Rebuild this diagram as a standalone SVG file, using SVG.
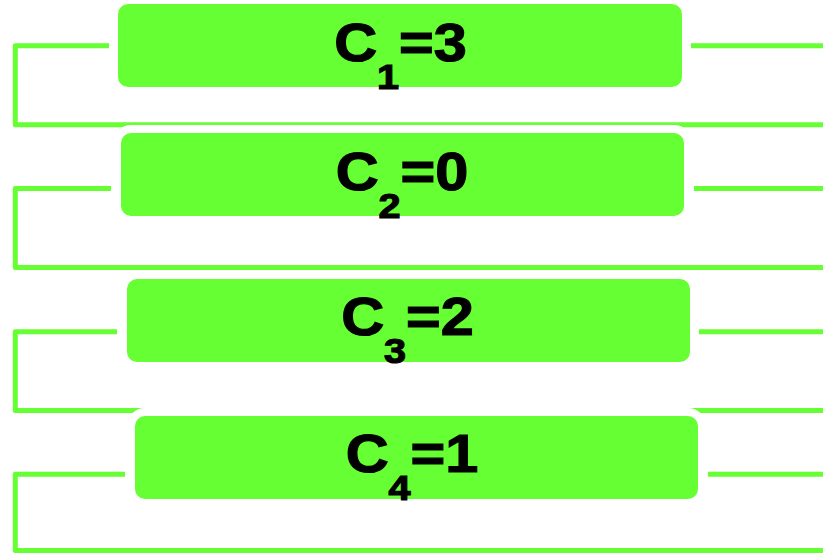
<svg xmlns="http://www.w3.org/2000/svg" width="823" height="553" viewBox="0 0 823 553">
<style>
.ln{fill:none;stroke:#66FF33;stroke-width:5;stroke-linejoin:round}
.bx{fill:#66FF33;stroke:#FFFFFF;stroke-width:16;paint-order:stroke}
.t{font-family:"Liberation Sans",Arial,sans-serif;font-weight:bold;font-size:54px;fill:#000;stroke:#000;stroke-width:1.2;text-anchor:middle}
.s{font-size:36px}
</style>
<rect width="823" height="553" fill="#FFFFFF"/>
<g id="connectors">
<path class="ln" d="M109,45.8 H15.3 V124.8 H823 M691,45.8 H823"/>
<path class="ln" d="M111,188.5 H15.3 V267.5 H823 M694,188.5 H823"/>
<path class="ln" d="M117,331.8 H15.3 V410.5 H823 M699,331.8 H823"/>
<path class="ln" d="M125,474.2 H15.3 V550.5 H823 M708,474.2 H823"/>
</g>
<g id="c1">
<rect class="bx" x="118" y="4" width="564" height="83" rx="10"/>
<text class="t" transform="translate(400.5,60.5) scale(1.1,1)">C<tspan class="s" dy="28.5">1</tspan><tspan dy="-28.5">=3</tspan></text>
</g>
<g id="c2">
<rect class="bx" x="121" y="133" width="563" height="83" rx="10"/>
<text class="t" transform="translate(402,189.5) scale(1.1,1)">C<tspan class="s" dy="28.5">2</tspan><tspan dy="-28.5">=0</tspan></text>
</g>
<g id="c3">
<rect class="bx" x="127" y="279" width="563" height="83" rx="10"/>
<text class="t" transform="translate(407.5,334.5) scale(1.1,1)">C<tspan class="s" dy="28.5">3</tspan><tspan dy="-28.5">=2</tspan></text>
</g>
<g id="c4">
<rect class="bx" x="135" y="416" width="563" height="83" rx="10"/>
<text class="t" transform="translate(412,471.5) scale(1.1,1)">C<tspan class="s" dy="28.5">4</tspan><tspan dy="-28.5">=1</tspan></text>
</g>
</svg>
